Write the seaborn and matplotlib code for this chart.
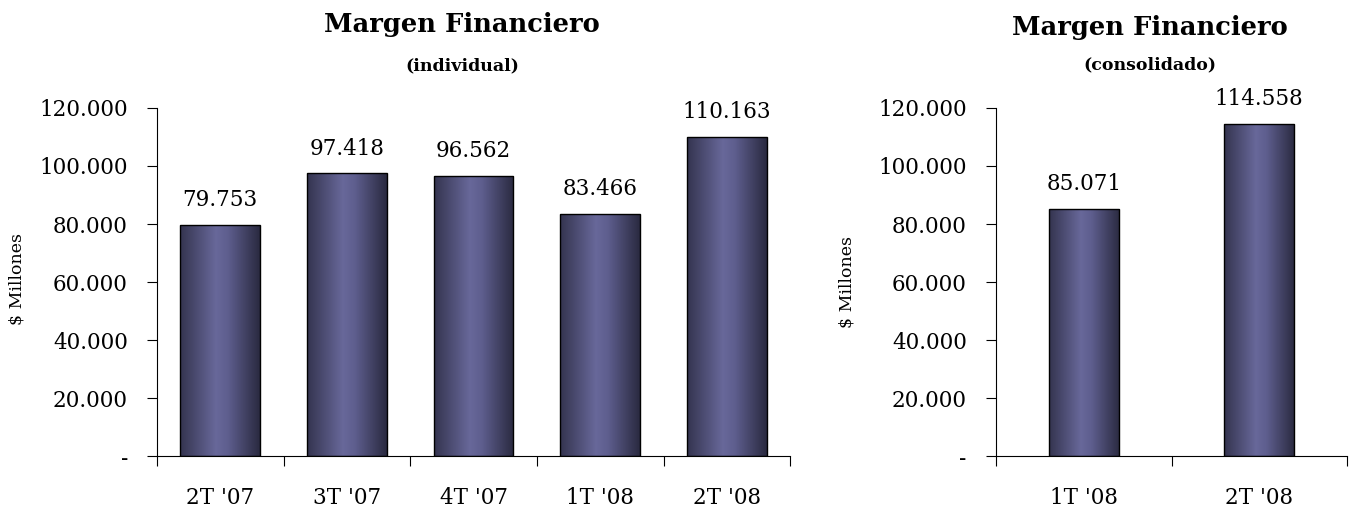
import numpy as np
import pandas as pd
import matplotlib
matplotlib.use("Agg")
import matplotlib.pyplot as plt
from matplotlib.colors import LinearSegmentedColormap
from matplotlib.ticker import FixedLocator, FuncFormatter
import seaborn as sns

# ---- data ----
ind_periods = ["2T '07", "3T '07", "4T '07", "1T '08", "2T '08"]
ind_values = [79753, 97418, 96562, 83466, 110163]
con_periods = ["1T '08", "2T '08"]
con_values = [85071, 114558]
y_ticks = [0, 20000, 40000, 60000, 80000, 100000, 120000]

title_main = "Margen Financiero"
sub_left = "(individual)"
sub_right = "(consolidado)"
y_label = "$ Millones"

sns.set_theme(style="white")
plt.rcParams['font.family'] = ['DejaVu Serif']
plt.rcParams['text.color'] = 'black'
plt.rcParams['xtick.color'] = 'black'
plt.rcParams['ytick.color'] = 'black'
plt.rcParams['axes.labelcolor'] = 'black'

fig = plt.figure(figsize=(13.67, 5.14), dpi=100)
ax1 = fig.add_axes([0.1149, 0.1128, 0.4631, 0.6771])
ax2 = fig.add_axes([0.7286, 0.1128, 0.2568, 0.6771])

cmap = LinearSegmentedColormap.from_list(
    "bar", [(0.0, "#34344f"), (0.45, "#68689a"), (0.6, "#5e5e8e"), (1.0, "#2a2a40")])
grad = np.linspace(0, 1, 256).reshape(1, -1)

FS = 15.5


def fmt(v, pos=None):
    if v == 0:
        return "-"
    return f"{int(v):,}".replace(",", ".")


def draw(ax, cats, vals, width):
    df = pd.DataFrame({"cat": cats, "val": vals})
    sns.barplot(data=df, x="cat", y="val", ax=ax, width=width,
                color="#55557f", edgecolor="black", linewidth=1.0, saturation=1)
    for p in ax.patches:
        x0, w, h = p.get_x(), p.get_width(), p.get_height()
        im = ax.imshow(grad, cmap=cmap, aspect="auto",
                       extent=[x0, x0 + w, 0, h], zorder=p.get_zorder() + 0.1,
                       interpolation="bicubic")
        im.set_clip_path(p)
        p.set_zorder(p.get_zorder() + 0.2)
        p.set_facecolor("none")
    for c in ax.containers:
        ax.bar_label(c, labels=[fmt(v) for v in vals], padding=10, fontsize=FS)
    n = len(cats)
    ax.set_xlim(-0.5, n - 0.5)
    ax.set_ylim(0, 120000)
    ax.set_yticks(y_ticks)
    ax.yaxis.set_major_formatter(FuncFormatter(fmt))
    ax.xaxis.set_minor_locator(FixedLocator(np.arange(n + 1) - 0.5))
    ax.tick_params(axis="x", which="major", length=0, pad=22, labelsize=FS)
    ax.tick_params(axis="x", which="minor", length=7, width=0.8, color="black",
                   direction="out", bottom=True)
    ax.tick_params(axis="y", which="major", length=7, width=0.8, color="black",
                   direction="out", left=True, pad=14, labelsize=FS)
    ax.set_xlabel("")
    ax.set_ylabel(y_label, fontsize=12.5)
    for s in ["top", "right"]:
        ax.spines[s].set_visible(False)
    for s in ["left", "bottom"]:
        ax.spines[s].set_color("black")
        ax.spines[s].set_linewidth(0.8)


draw(ax1, ind_periods, ind_values, 0.63)
draw(ax2, con_periods, con_values, 0.40)
ax1.yaxis.set_label_coords(-0.208, 0.51)
ax2.yaxis.set_label_coords(-0.40, 0.50)

fig.text(0.338, 0.952, title_main, ha="center", va="center", fontsize=18.5, fontweight="bold")
fig.text(0.338, 0.872, sub_left, ha="center", va="center", fontsize=12.5, fontweight="bold")
fig.text(0.841, 0.947, title_main, ha="center", va="center", fontsize=18.5, fontweight="bold")
fig.text(0.841, 0.873, sub_right, ha="center", va="center", fontsize=12.5, fontweight="bold")

fig.savefig("out.png", dpi=100)
